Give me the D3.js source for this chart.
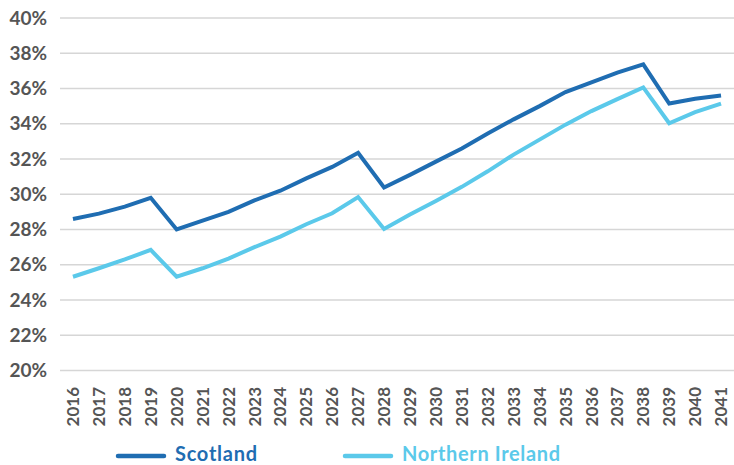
<!DOCTYPE html>
<html>
<head>
<meta charset="utf-8">
<script src="https://cdn.jsdelivr.net/npm/d3@7"></script>
<style>
  html, body { margin: 0; padding: 0; background: #fff; }
  svg { display: block; }
  text { font-family: Lato, "Open Sans", sans-serif; font-weight: 700; }
</style>
</head>
<body>
<svg id="chart" width="734" height="465"></svg>
<script>
const years = ["2016","2017","2018","2019","2020","2021","2022","2023","2024","2025","2026","2027","2028","2029","2030","2031","2032","2033","2034","2035","2036","2037","2038","2039","2040","2041"];
const scotland = [28.6,28.9,29.3,29.8,28.0,28.5,29.0,29.65,30.2,30.9,31.55,32.35,30.38,31.1,31.85,32.6,33.45,34.25,35.0,35.8,36.35,36.9,37.37,35.15,35.42,35.6];
const northernIreland = [25.32,25.8,26.3,26.84,25.32,25.8,26.35,27.0,27.6,28.3,28.92,29.84,28.03,28.85,29.62,30.42,31.3,32.25,33.1,33.95,34.72,35.4,36.06,34.03,34.66,35.14];
const yTicks = [20,22,24,26,28,30,32,34,36,38,40];
const seriesNames = ["Scotland","Northern Ireland"];
const seriesColors = ["#1f6db2","#5bc9ea"];

const svg = d3.select("#chart");
const x = d3.scaleBand().domain(years).range([60, 734]);
const y = d3.scaleLinear().domain([20, 40]).range([370.5, 18]);

// gridlines
svg.append("g").selectAll("line").data(yTicks).join("line")
  .attr("x1", 60).attr("x2", 734)
  .attr("y1", d => y(d)).attr("y2", d => y(d))
  .attr("stroke", "#d6d6d6").attr("stroke-width", 1.5);

// y axis labels
const yAxis = d3.axisLeft(y).tickValues(yTicks).tickFormat(d => d + "%").tickSize(0).tickPadding(0);
const gy = svg.append("g").attr("transform", "translate(47,0)").call(yAxis);
gy.select(".domain").remove();
gy.selectAll("text").attr("fill", "#555555").style("font-size", "19px")
  .style("font-family", "Lato, sans-serif").style("font-weight", "700");

// x axis labels
const xAxis = d3.axisBottom(x).tickSize(0).tickPadding(0);
const gx = svg.append("g").attr("transform", "translate(0,387)").call(xAxis);
gx.select(".domain").remove();
gx.selectAll("text")
  .attr("fill", "#555555").style("font-size", "17px")
  .style("font-family", "Lato, sans-serif").style("font-weight", "700")
  .attr("transform", "rotate(-90)")
  .attr("text-anchor", "end")
  .attr("x", 0).attr("y", 0).attr("dy", "0.36em");

// lines
const line = d3.line().x((d, i) => x(years[i]) + x.bandwidth() / 2).y(d => y(d));
[scotland, northernIreland].forEach((s, k) => {
  svg.append("path").datum(s)
    .attr("fill", "none")
    .attr("stroke", seriesColors[k])
    .attr("stroke-width", 4)
    .attr("stroke-linejoin", "miter")
    .attr("d", line);
});

// legend
const legendX = [118, 345];
const legendLen = [82, 158];
seriesNames.forEach((name, k) => {
  const g = svg.append("g").attr("transform", `translate(${legendX[k]},456)`);
  g.append("line").attr("x1", 0).attr("x2", 46).attr("y1", 0).attr("y2", 0)
    .attr("stroke", seriesColors[k]).attr("stroke-width", 4.5).attr("stroke-linecap", "round");
  g.append("text").attr("x", 57).attr("y", 4.5)
    .attr("textLength", legendLen[k]).attr("lengthAdjust", "spacing")
    .attr("fill", seriesColors[k]).style("font-size", "20px").text(name);
});
</script>
</body>
</html>
